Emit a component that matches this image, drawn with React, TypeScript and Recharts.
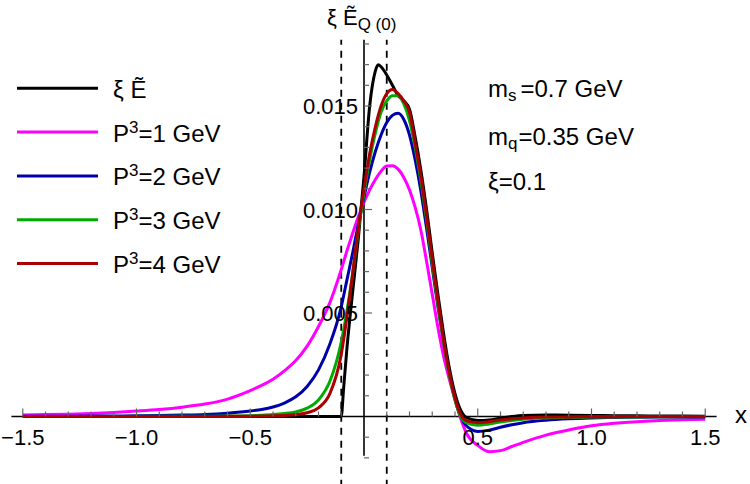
import { Legend, Line, LineChart, ReferenceLine, XAxis, YAxis } from "recharts";

const X_VALUES = [
  -1.5, -1.4, -1.3, -1.2, -1.1, -1.0, -0.9, -0.8, -0.7, -0.6, -0.5, -0.45, -0.4,
  -0.35, -0.3, -0.25, -0.2, -0.15, -0.1, -0.09, -0.075, -0.05, -0.025, 0, 0.025,
  0.05, 0.0625, 0.075, 0.1, 0.125, 0.15, 0.175, 0.2, 0.225, 0.25, 0.275, 0.3,
  0.325, 0.35, 0.375, 0.4, 0.425, 0.45, 0.5, 0.55, 0.6, 0.65, 0.7, 0.8, 0.9, 1.0,
  1.1, 1.2, 1.3, 1.4, 1.5,
];

// xi * E~ (quasi-PDF limit)
const XI_E = [
  0, 0, 0, 0, 0, 0, 0, 0, 0, 0, 0, 0, 0, 0, 0, 0, 0, 0, 0, 0.0013, 0.0033,
  0.006, 0.0086, 0.0116, 0.015, 0.0167, 0.017, 0.0169, 0.0165, 0.016, 0.0155,
  0.01525, 0.01485, 0.0135, 0.0119, 0.01, 0.0079, 0.0059, 0.004, 0.00235, 0.0011,
  0.0003, -0.00005, -0.0002, -0.00017, -0.00008, 0, 0.00005, 0.00007, 0.00006,
  0.00005, 0.00004, 0.00003, 0.00002, 0.00002, 0.00001,
];

const P3_1 = [
  0.00007, 0.00009, 0.00011, 0.00014, 0.00019, 0.00026, 0.00034, 0.00045, 0.0006,
  0.00084, 0.00125, 0.0015, 0.0018, 0.0022, 0.0027, 0.0034, 0.00435, 0.0055,
  0.0071, null, 0.008, 0.00885, 0.00965, 0.01035, 0.01095, 0.01145, null, 0.01185,
  0.0121, 0.01212, 0.01195, 0.01155, 0.01095, 0.0101, 0.009, 0.0075, 0.0059,
  0.0043, 0.0029, 0.0018, 0.0008, -0.0001, -0.0008, -0.0014, -0.0017, -0.00165,
  -0.00145, -0.00125, -0.0009, -0.00065, -0.00045, -0.00033, -0.00025, -0.0002,
  -0.00016, -0.00013,
];

const P3_2 = [
  0.00001, 0.000012, 0.000015, 0.00002, 0.000025, 0.000035, 0.00005, 0.00007,
  0.0001, 0.00016, 0.00026, 0.00034, 0.00046, 0.00065, 0.00095, 0.00145, 0.00225,
  0.0035, 0.0053, null, 0.0066, 0.0079, 0.0093, 0.0106, 0.0118, 0.0128, null,
  0.0136, 0.0142, 0.01455, 0.01465, 0.01435, 0.0136, 0.0124, 0.0109, 0.0091,
  0.0072, 0.0053, 0.0036, 0.0021, 0.00085, 0, -0.00045, -0.00072, -0.00066,
  -0.00052, -0.0004, -0.0003, -0.00018, -0.00011, -0.00007, -0.00005, -0.00004,
  -0.00003, -0.00002, -0.00002,
];

const P3_3 = [
  0, 0, 0, 0, 0, 0.000005, 0.000007, 0.00001, 0.000015, 0.00002, 0.00004, 0.00006,
  0.00009, 0.00014, 0.00022, 0.0004, 0.0008, 0.0017, 0.0036, null, 0.0051, 0.0069,
  0.009, 0.0108, 0.0124, 0.0137, null, 0.0147, 0.01525, 0.0155, 0.0155, 0.0151,
  0.0143, 0.013, 0.0114, 0.0095, 0.0074, 0.0054, 0.0036, 0.002, 0.0008, 0,
  -0.0003, -0.00042, -0.00036, -0.00027, -0.00019, -0.00013, -0.00007, -0.00004,
  -0.00003, -0.00002, -0.00002, -0.00001, -0.00001, -0.00001,
];

const P3_4 = [
  0, 0, 0, 0, 0, 0, 0, 0, 0, 0.000005, 0.00001, 0.00002, 0.00003, 0.00005, 0.00009,
  0.00018, 0.00042, 0.0011, 0.003, null, 0.0048, 0.0069, 0.0091, 0.011, 0.0127,
  0.014, null, 0.015, 0.0156, 0.0158, 0.0156, 0.01525, 0.0147, 0.0132, 0.0116,
  0.0097, 0.0076, 0.0056, 0.0037, 0.0021, 0.0009, 0.0001, -0.0002, -0.0003,
  -0.00025, -0.00017, -0.00011, -0.00007, -0.00003, -0.00002, -0.00001, -0.00001,
  0, 0, 0, 0,
];

const X_TICKS = [
  -1.5, -1.4, -1.3, -1.2, -1.1, -1.0, -0.9, -0.8, -0.7, -0.6, -0.5, -0.4, -0.3,
  -0.2, -0.1, 0.1, 0.2, 0.3, 0.4, 0.5, 0.6, 0.7, 0.8, 0.9, 1.0, 1.1, 1.2, 1.3, 1.4,
  1.5,
];
const X_LABELS = [-1.5, -1.0, -0.5, 0.5, 1.0, 1.5];
const Y_TICKS = [
  -0.002, -0.001, 0.001, 0.002, 0.003, 0.004, 0.005, 0.006, 0.007, 0.008, 0.009,
  0.01, 0.011, 0.012, 0.013, 0.014, 0.015, 0.016, 0.017, 0.018,
];
const Y_LABELS = [0.005, 0.01, 0.015];
const XI = 0.1;

const SERIES = [
  { key: "xiE", color: "#000000", label: ["ξ Ẽ", "", ""] },
  { key: "p1", color: "#ff00ff", label: ["P", "3", "=1 GeV"] },
  { key: "p2", color: "#0000aa", label: ["P", "3", "=2 GeV"] },
  { key: "p3", color: "#00aa00", label: ["P", "3", "=3 GeV"] },
  { key: "p4", color: "#aa0000", label: ["P", "3", "=4 GeV"] },
];

const W = 750;
const H = 484;
const X_MIN = -1.55;
const X_MAX = 1.55;
const Y_MIN = -0.0019;
const Y_MAX = 0.0182;
const DASH_BOTTOM = -0.0034;
const AXIS_SIZE = 1;
const MARGIN = { top: 39.8, right: 33.4, bottom: 27.2, left: 10.4 };
const PLOT_LEFT = MARGIN.left + AXIS_SIZE;
const PLOT_W = W - PLOT_LEFT - MARGIN.right;
const PLOT_H = H - MARGIN.top - MARGIN.bottom - AXIS_SIZE;
const ZERO_X = PLOT_LEFT + (PLOT_W * (0 - X_MIN)) / (X_MAX - X_MIN);
const ZERO_Y = MARGIN.top + (PLOT_H * (Y_MAX - 0)) / (Y_MAX - Y_MIN);
const FONT = "'Liberation Sans', Arial, sans-serif";

const data = X_VALUES.map((x, i) => ({
  x,
  xiE: XI_E[i],
  p1: P3_1[i],
  p2: P3_2[i],
  p3: P3_3[i],
  p4: P3_4[i],
}));

const isIn = (list: number[], v: number) => list.some((t) => Math.abs(t - v) < 1e-9);

function XTick(props: any) {
  const { x, payload } = props;
  const v = payload.value as number;
  const major = isIn(X_LABELS, v);
  const text = (v < 0 ? "\u2212" : "") + Math.abs(v).toFixed(1);
  return (
    <g>
      <line x1={x} x2={x} y1={ZERO_Y} y2={ZERO_Y - (major ? 8 : 5)} stroke="#666" strokeWidth={1.2} />
      {major && (
        <text x={x} y={ZERO_Y + 29} textAnchor="middle" fontSize={22} fontFamily={FONT} fill="#000">
          {text}
        </text>
      )}
    </g>
  );
}

function YTick(props: any) {
  const { y, payload } = props;
  const major = isIn(Y_LABELS, payload.value);
  return (
    <g>
      <line x1={ZERO_X} x2={ZERO_X + (major ? 8 : 5)} y1={y} y2={y} stroke="#666" strokeWidth={1.2} />
      {major && (
        <text x={ZERO_X - 6} y={y + 8} textAnchor="end" fontSize={22} fontFamily={FONT} fill="#000">
          {(payload.value as number).toFixed(3)}
        </text>
      )}
    </g>
  );
}

function LegendBox() {
  return (
    <svg width={260} height={290} style={{ display: "block" }}>
      {SERIES.map((s, i) => {
        const y = 88.3 + i * 43.8;
        return (
          <g key={s.key}>
            <line x1={17} x2={98} y1={y} y2={y} stroke={s.color} strokeWidth={3} />
            <text x={113} y={y + 9.5} fontSize={24} fontFamily={FONT} fill="#000">
              {s.label[0]}
              {s.label[1] && (
                <tspan dy={-9} fontSize={17}>
                  {s.label[1]}
                </tspan>
              )}
              {s.label[2] && <tspan dy={9}>{s.label[2]}</tspan>}
            </text>
          </g>
        );
      })}
    </svg>
  );
}

export default function App() {
  return (
    <div style={{ position: "absolute", left: 0, top: 0, width: W, height: H, background: "#fff" }}>
      <LineChart width={W} height={H} data={data} margin={MARGIN}>
        <XAxis
          type="number"
          dataKey="x"
          domain={[X_MIN, X_MAX]}
          ticks={X_TICKS}
          interval={0}
          height={AXIS_SIZE}
          axisLine={false}
          tickLine={false}
          tick={XTick}
          allowDataOverflow
        />
        <YAxis
          type="number"
          domain={[Y_MIN, Y_MAX]}
          ticks={Y_TICKS}
          interval={0}
          width={AXIS_SIZE}
          axisLine={false}
          tickLine={false}
          tick={YTick}
          allowDataOverflow
        />
        <ReferenceLine y={0} stroke="#000" strokeWidth={1.6} />
        <ReferenceLine x={0} stroke="#000" strokeWidth={1.6} />
        {[-XI, XI].map((v) => (
          <ReferenceLine
            key={v}
            segment={[
              { x: v, y: DASH_BOTTOM },
              { x: v, y: Y_MAX },
            ]}
            stroke="#000"
            strokeWidth={1.8}
            strokeDasharray="7 6"
            ifOverflow="visible"
          />
        ))}
        {SERIES.map((s) => (
          <Line
            key={s.key}
            type="monotone"
            dataKey={s.key}
            stroke={s.color}
            strokeWidth={3}
            dot={false}
            connectNulls
            isAnimationActive={false}
          />
        ))}
        <Legend
          layout="vertical"
          align="center"
          verticalAlign="middle"
          wrapperStyle={{ left: 0, top: 0, width: 260, height: 290 }}
          content={() => <LegendBox />}
        />
      </LineChart>
      <svg
        width={W}
        height={H}
        style={{ position: "absolute", left: 0, top: 0, pointerEvents: "none" }}
        fontFamily={FONT}
      >
        <text x={327} y={25} fontSize={22}>
          ξ Ẽ
          <tspan dy={5} fontSize={17}>
            Q (0)
          </tspan>
        </text>
        <text x={735} y={423} fontSize={24}>
          x
        </text>
        <text x={488} y={97} fontSize={24}>
          m
          <tspan dy={4} fontSize={17}>
            s
          </tspan>
          <tspan dy={-4} dx={4}>
            =0.7 GeV
          </tspan>
        </text>
        <text x={488} y={145} fontSize={24}>
          m
          <tspan dy={4} fontSize={17}>
            q
          </tspan>
          <tspan dy={-4} dx={1}>
            =0.35 GeV
          </tspan>
        </text>
        <text x={488} y={190} fontSize={24}>
          ξ=0.1
        </text>
      </svg>
    </div>
  );
}
